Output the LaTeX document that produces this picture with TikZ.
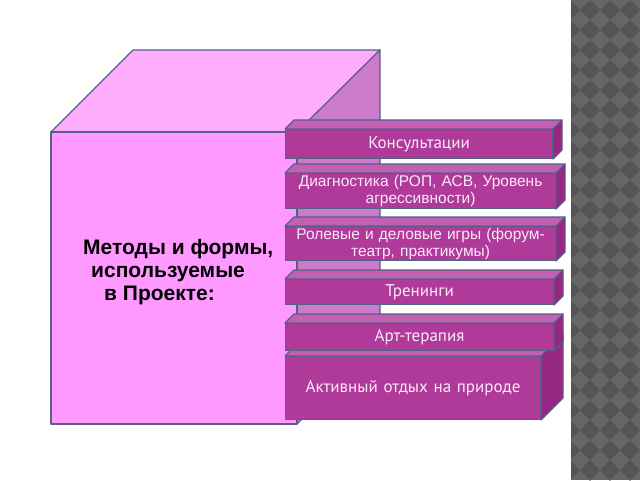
\documentclass[tikz,border=0pt]{standalone}
\usepackage{fontspec}
\setmainfont{Liberation Sans}
\newfontfamily\boxfont{PT Sans}
\usetikzlibrary{calc}
\definecolor{edgec}{RGB}{84,96,132}
\definecolor{cubefront}{RGB}{255,153,255}
\definecolor{cubetop}{RGB}{255,172,255}
\definecolor{cubeside}{RGB}{204,122,204}
\definecolor{barfrontc}{RGB}{176,58,154}
\definecolor{bartopc}{RGB}{196,96,180}
\definecolor{barsidec}{RGB}{150,40,132}
\definecolor{bartext}{RGB}{253,232,250}
\definecolor{stripdark}{RGB}{84,84,84}
\definecolor{striplight}{RGB}{102,102,102}
\tikzset{
  cubeface/.style={draw=edgec, line width=1.1pt, line join=round},
  barfront/.style={draw=edgec, fill=barfrontc, line width=1.1pt, inner sep=0pt,
    anchor=north west, align=center, text=bartext, font=\fontsize{15.5}{17}\selectfont},
  barfont/.style={font=\boxfont\fontsize{17}{18}\selectfont},
  bartop/.style={draw=edgec, fill=bartopc, line width=1.1pt, line join=round},
  barside/.style={draw=edgec, fill=barsidec, line width=1.1pt, line join=round},
}
\newcommand\barfaces[2]{%
  \draw[bartop] (#1.north west) -- ++(#2,-#2) -- ($(#1.north east)+(#2,-#2)$) -- (#1.north east) -- cycle;
  \draw[barside] (#1.north east) -- ++(#2,-#2) -- ($(#1.south east)+(#2,-#2)$) -- (#1.south east) -- cycle;}
\begin{document}
\begin{tikzpicture}[x=1pt,y=-1pt]
\useasboundingbox[fill=white] (0,0) rectangle (640,480);
% patterned strip
\fill[striplight] (571,0) rectangle (640,480);
\begin{scope}
\clip (571,0) rectangle (640,480);
\foreach \i in {0,...,4}{
  \foreach \j in {0,...,25}{
    \fill[stripdark] (570+20*\i,20*\j) -- ++(10,10) -- ++(-10,10) -- ++(-10,-10) -- cycle;
  }}
\end{scope}
% cube
\draw[cubeface, fill=cubetop] (51,132) -- (133,50) -- (380,50) -- (297,132) -- cycle;
\draw[cubeface, fill=cubeside] (297,132) -- (380,50) -- (380,342) -- (297,424) -- cycle;
\draw[cubeface, fill=cubefront] (51,132) rectangle (297,424);
\node[font=\bfseries\fontsize{21}{23}\selectfont, align=left, anchor=north west, inner sep=0pt]
  (title) at (83,239) {Методы и формы,\\\hspace*{8pt}используемые\\\hspace*{21pt}в Проекте:};
% bars (bottom first)
\node[barfront, barfont, minimum width=255pt, minimum height=63pt, text width=255pt] (b6) at (285,356) {Активный отдых на природе};
\barfaces{b6}{22}
\node[barfront, barfont, minimum width=268pt, minimum height=27pt, text width=268pt] (b5) at (285,323) {Арт-терапия};
\barfaces{b5}{9}
\node[barfront, barfont, minimum width=268pt, minimum height=25pt, text width=268pt] (b4) at (285,279) {Тренинги};
\barfaces{b4}{9}
\node[barfront, minimum width=270pt, minimum height=34pt, text width=270pt] (b3) at (285,226) {\raisebox{-2pt}{\parbox{270pt}{\centering Ролевые и деловые игры (форум-\\театр, практикумы)}}};
\barfaces{b3}{9}
\node[barfront, minimum width=270pt, minimum height=35pt, text width=270pt] (b2) at (285,173) {\raisebox{-4pt}{\parbox{270pt}{\centering Диагностика (РОП, АСВ, Уровень\\агрессивности)}}};
\barfaces{b2}{9}
\node[barfront, barfont, minimum width=267pt, minimum height=29pt, text width=267pt] (b1) at (285,129) {Консультации};
\barfaces{b1}{9}
\end{tikzpicture}
\end{document}
